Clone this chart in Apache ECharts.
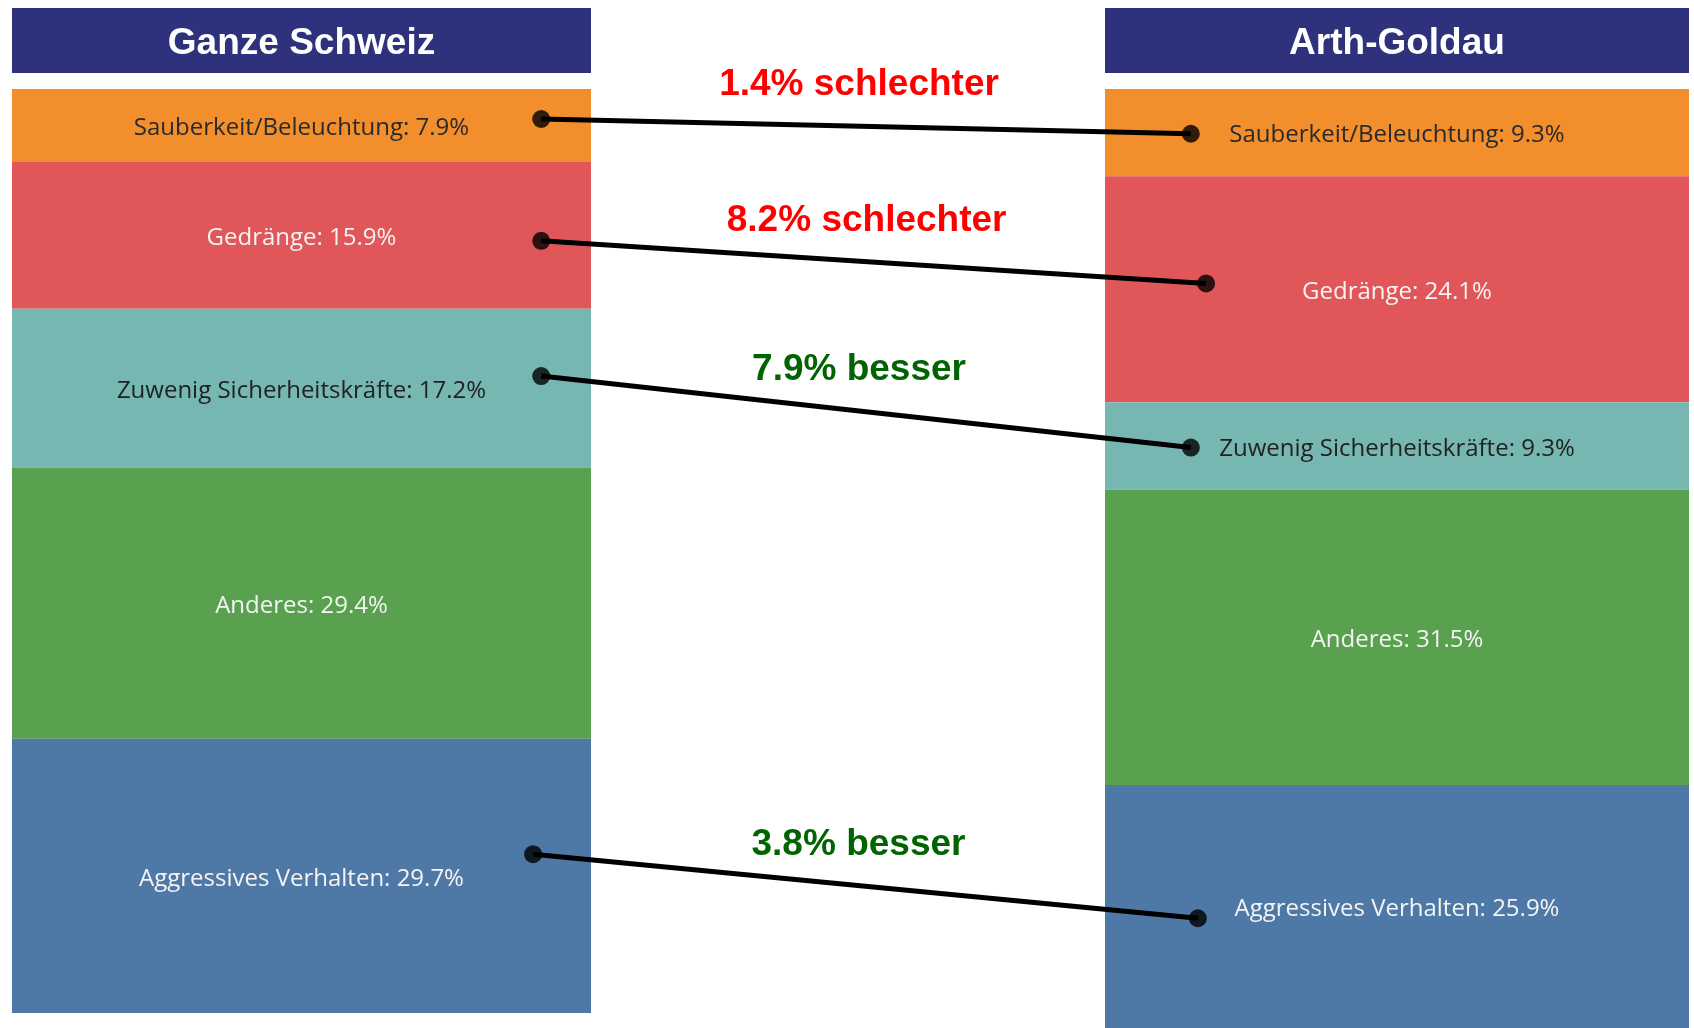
<!DOCTYPE html>
<html>
<head>
<meta charset="utf-8">
<script src="https://cdn.jsdelivr.net/npm/echarts@6/dist/echarts.min.js"></script>
<style>
html,body{margin:0;padding:0;background:#fff;}
#chart{width:1694px;height:1028px;}
</style>
</head>
<body>
<div id="chart"></div>
<script>
// ---- data ----
const categories = ['Sauberkeit/Beleuchtung', 'Gedränge', 'Zuwenig Sicherheitskräfte', 'Anderes', 'Aggressives Verhalten'];
const panels = ['Ganze Schweiz', 'Arth-Goldau'];
const schweizValues = [7.9, 15.9, 17.2, 29.4, 29.7];
const goldauValues = [9.3, 24.1, 9.3, 31.5, 25.9];
// connector annotations: which categories are linked,
// anchor position along the bar (in % of the stack) and across the bar (fraction of width)
const linkedCategories = [0, 1, 2, 4];
const schweizAnchorPct = [3.25, 16.45, 31.1, 82.9];
const schweizAnchorAcross = [0.914, 0.914, 0.914, 0.900];
const goldauAnchorPct = [4.77, 20.73, 38.22, 88.4];
const goldauAnchorAcross = [0.147, 0.173, 0.147, 0.159];

// ---- styles ----
const segColors = ['#F28E2B', '#E15759', '#76B7B2', '#59A14F', '#4E79A7'];
const labelColors = ['#2a2a2a', '#f4f4f4', '#222222', '#f4f4f4', '#f4f4f4'];
const headerColor = '#2E317B';
const labelFont = '"Open Sans", "Noto Sans", sans-serif';

const sum = a => a.reduce((s, v) => s + v, 0);
const maxL = Math.round(sum(schweizValues) * 10) / 10;
const maxR = Math.round(sum(goldauValues) * 10) / 10;

const chart = echarts.init(document.getElementById('chart'), null, {renderer: 'canvas'});

function headerLabel(width) {
  return {
    show: true, color: '#fff', fontSize: 37, fontWeight: 'bold',
    fontFamily: 'Arial, "Liberation Sans", sans-serif',
    backgroundColor: headerColor, width: width, height: 59, lineHeight: 59,
    padding: [6, 0, 0, 0],
    align: 'center', verticalAlign: 'bottom', margin: 16, overflow: 'none'
  };
}

const series = [];
categories.forEach((c, i) => {
  [[schweizValues, 0, 'L'], [goldauValues, 1, 'R']].forEach(([vals, g, st]) => {
    series.push({
      type: 'bar', name: c, stack: st, xAxisIndex: g, yAxisIndex: g,
      barWidth: '100%', data: [vals[i]],
      itemStyle: {color: segColors[i]},
      label: {
        show: true, position: 'inside', offset: [0, 3], color: labelColors[i],
        fontFamily: labelFont, fontSize: 24,
        formatter: p => `${c}: ${p.value}%`
      },
      emphasis: {disabled: true}, silent: true
    });
  });
});
series.push({
  type: 'scatter', xAxisIndex: 2, yAxisIndex: 0, z: 20, symbolSize: 18,
  itemStyle: {color: '#000'}, silent: true,
  data: schweizAnchorPct.map((p, k) => [schweizAnchorAcross[k], p])
});
series.push({
  type: 'scatter', xAxisIndex: 3, yAxisIndex: 1, z: 20, symbolSize: 18,
  itemStyle: {color: '#000'}, silent: true,
  data: goldauAnchorPct.map((p, k) => [goldauAnchorAcross[k], p])
});

chart.setOption({
  animation: false,
  backgroundColor: '#fff',
  grid: [
    {left: 12, top: 89, width: 579, height: 924},
    {left: 1105, top: 89, width: 584, height: 950}
  ],
  xAxis: [
    {type: 'category', gridIndex: 0, position: 'top', data: [panels[0]], axisLine: {show: false}, axisTick: {show: false}, axisLabel: headerLabel(579)},
    {type: 'category', gridIndex: 1, position: 'top', data: [panels[1]], axisLine: {show: false}, axisTick: {show: false}, axisLabel: headerLabel(584)},
    {type: 'value', gridIndex: 0, min: 0, max: 1, show: false, position: 'bottom'},
    {type: 'value', gridIndex: 1, min: 0, max: 1, show: false, position: 'bottom'}
  ],
  yAxis: [
    {type: 'value', gridIndex: 0, min: 0, max: maxL, inverse: true, show: false},
    {type: 'value', gridIndex: 1, min: 0, max: maxR, inverse: true, show: false}
  ],
  series: series
});

// connector lines + difference labels, positioned through the axes
const graphics = [];
linkedCategories.forEach((ci, k) => {
  const a = chart.convertToPixel({xAxisIndex: 2, yAxisIndex: 0}, [schweizAnchorAcross[k], schweizAnchorPct[k]]);
  const b = chart.convertToPixel({xAxisIndex: 3, yAxisIndex: 1}, [goldauAnchorAcross[k], goldauAnchorPct[k]]);
  graphics.push({
    type: 'line', z: 15, silent: true,
    shape: {x1: a[0], y1: a[1], x2: b[0], y2: b[1]},
    style: {stroke: '#000', lineWidth: 5}
  });
  const diff = Math.round((goldauValues[ci] - schweizValues[ci]) * 10) / 10;
  const worse = diff > 0;
  const cx = (a[0] + b[0]) / 2 - 7;
  const cy = a[1] + (b[1] - a[1]) * ((cx - a[0]) / (b[0] - a[0]));
  graphics.push({
    type: 'text', z: 15, silent: true,
    x: cx, y: cy - 41,
    style: {
      text: `${Math.abs(diff).toFixed(1)}% ${worse ? 'schlechter' : 'besser'}`,
      fill: worse ? '#FF0000' : '#006400',
      font: 'bold 37px Arial, "Liberation Sans", sans-serif',
      textAlign: 'center', textVerticalAlign: 'middle'
    }
  });
});
chart.setOption({graphic: graphics});
</script>
</body>
</html>
